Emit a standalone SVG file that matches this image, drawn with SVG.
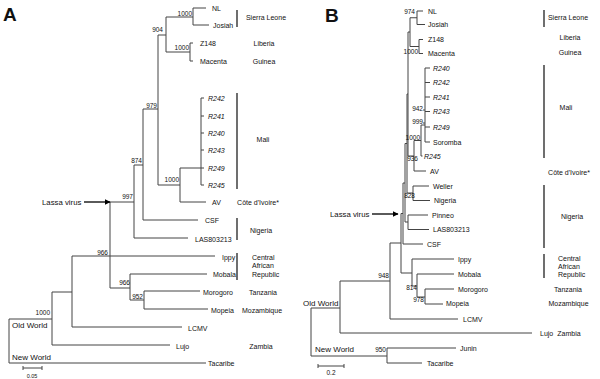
<svg xmlns="http://www.w3.org/2000/svg" width="600" height="379" viewBox="0 0 600 379">
<style>
text{font-family:"Liberation Sans",Arial,sans-serif;fill:#111}
.lf{font-size:7px}
.it{font-style:italic}
.bs{font-size:6.5px;text-anchor:end}
.rg{font-size:7px;text-anchor:middle}
.rl{font-size:7px}
.pl{font-size:19px;font-weight:bold}
.lv{font-size:7.8px}
.ow{font-size:8px}
.tr{fill:none;stroke:#444;stroke-width:1}
.br{fill:none;stroke:#222;stroke-width:1.3}
.ar{fill:none;stroke:#000;stroke-width:1.3}
</style>
<defs>
<marker id="ah" viewBox="0 0 10 10" refX="9" refY="5" markerWidth="6" markerHeight="6" markerUnits="userSpaceOnUse" orient="auto"><path d="M0 0L10 5L0 10z" fill="#000"/></marker>
</defs>
<rect width="600" height="379" fill="#fff"/>
<g id="connectors">
<!-- Panel A tree -->
<path class="tr" d="M9 319V363M9 319H52M9 363H206
M52 292V345M52 292H72M52 345H170
M72 256V327M72 256H110M72 327H182
M110 202V288M110 202H134M110 256H215M110 288H130
M130 274V300M130 274H207M130 300H144
M144 291V309M144 291H200M144 309H208
M134 165V238M134 165H143M134 238H188
M143 109V220M143 109H158M143 220H198
M158 35V185M158 35H166M158 185H180
M166 17V52M166 17H193M166 52H190
M193 8V25M193 8H206M193 25H209
M190 43V61M190 43H193M190 61H193
M180 168V202M180 168H201M180 202H206
M201 98V185M201 98H204M201 116H204M201 133H204M201 150H204M201 168H204M201 185H204"/>
<!-- Panel A scale -->
<path class="tr" d="M23 368H42M23 366V370M42 366V370"/>
<!-- Panel B tree -->
<path class="tr" d="M311 308V356M311 308H340M311 356H387
M387 348V363M387 348H456M387 363H422
M340 281V333M340 281H390M340 333H532
M390 243V319M390 243H401M390 319H458
M401 213.5V273M401 213.5H403M401 273H412
M412 259V286M412 259H454M412 286H417
M417 274V297M417 274H454M417 297H425
M425 289V304M425 289H454M425 304H443
M403 183V244M403 183H405M403 244H423
M405 143.5V222M405 143.5H407M405 222H408
M408 215V229.5M408 215H428M408 229.5H429
M407 94V193M407 94H408M407 193H413
M413 186V200.5M413 186H429M413 200.5H430
M408 32V156M408 32H410M408 156H414
M410 17.75V46.5M410 17.75H417M410 46.5H419
M417 11V24.5M417 11H423M417 24.5H425
M419 39.5V53.5M419 39.5H423M419 53.5H423
M414 140.5V171M414 140.5H421M414 171H426
M421 125V156M421 125H425M421 156H422.5
M425 68V142M425 68H430M425 82.5H430M425 97H430M425 111.5H430M425 127H430M425 142H430
M423 110H425M423 123H425"/>
<!-- Panel B scale -->
<path class="tr" d="M318 366H344M318 364V368M344 364V368"/>
<!-- Brackets A -->
<path class="br" d="M237 10V27M237 93V189M237 218V240M237 253V280"/>
<!-- Brackets B -->
<path class="br" d="M544 10V27M544 65V158M544 185V248M544 254V278"/>
<!-- Arrows -->
<path class="ar" d="M84 202H110" marker-end="url(#ah)"/>
<path class="ar" d="M372 214H398" marker-end="url(#ah)"/>
</g>
<g id="panelA">
<text class="pl" x="3" y="21">A</text>
<g id="A-leaves">
<text class="lf" x="212" y="10.5">NL</text>
<text class="lf" x="213" y="27.5">Josiah</text>
<text class="lf" x="200" y="45.5">Z148</text>
<text class="lf" x="200" y="63.5">Macenta</text>
<text class="lf it" x="208" y="100.5">R242</text>
<text class="lf it" x="208" y="118.5">R241</text>
<text class="lf it" x="208" y="135.5">R240</text>
<text class="lf it" x="208" y="152.5">R243</text>
<text class="lf it" x="208" y="170.5">R249</text>
<text class="lf it" x="208" y="187.5">R245</text>
<text class="lf" x="212" y="204.5">AV</text>
<text class="lf" x="205" y="222.5">CSF</text>
<text class="lf" x="195" y="241.5">LAS803213</text>
<text class="lf" x="222" y="259.5">Ippy</text>
<text class="lf" x="213" y="276.5">Mobala</text>
<text class="lf" x="203" y="294.5">Morogoro</text>
<text class="lf" x="211" y="312.5">Mopeia</text>
<text class="lf" x="188" y="330.5">LCMV</text>
<text class="lf" x="176" y="348.5">Lujo</text>
<text class="lf" x="208" y="366">Tacaribe</text>
</g>
<g id="A-boot">
<text class="bs" x="192" y="16">1000</text>
<text class="bs" x="163" y="32">904</text>
<text class="bs" x="189" y="50">1000</text>
<text class="bs" x="157" y="108">979</text>
<text class="bs" x="142" y="163">874</text>
<text class="bs" x="179" y="182">1000</text>
<text class="bs" x="133" y="199">997</text>
<text class="bs" x="108" y="255">966</text>
<text class="bs" x="130" y="285">966</text>
<text class="bs" x="143" y="299">952</text>
<text class="bs" x="50" y="315">1000</text>
</g>
<g id="A-regions">
<text class="rg" x="266" y="19.5">Sierra Leone</text>
<text class="rg" x="264" y="45.5">Liberia</text>
<text class="rg" x="264" y="63.5">Guinea</text>
<text class="rg" x="263" y="142">Mali</text>
<text class="rg" x="258" y="204.5">Côte d'Ivoire*</text>
<text class="rg" x="261" y="232.5">Nigeria</text>
<text class="rl" x="252" y="259.5">Central</text>
<text class="rl" x="252" y="268">African</text>
<text class="rl" x="252" y="276.5">Republic</text>
<text class="rg" x="263" y="294.5">Tanzania</text>
<text class="rg" x="262" y="312.5">Mozambique</text>
<text class="rg" x="261" y="348.5">Zambia</text>
</g>
<text class="lv" x="42" y="205">Lassa virus</text>
<text class="ow" x="12" y="328">Old World</text>
<text class="ow" x="12" y="360">New World</text>
<text x="32" y="378" font-size="5.5" text-anchor="middle">0.05</text>
</g>
<g id="panelB">
<text class="pl" x="325" y="22">B</text>
<g id="B-leaves">
<text class="lf" x="428" y="13.5">NL</text>
<text class="lf" x="428" y="27">Josiah</text>
<text class="lf" x="428" y="42">Z148</text>
<text class="lf" x="428" y="56">Macenta</text>
<text class="lf it" x="433" y="70.5">R240</text>
<text class="lf it" x="433" y="85">R242</text>
<text class="lf it" x="433" y="99.5">R241</text>
<text class="lf it" x="433" y="114">R243</text>
<text class="lf it" x="433" y="129.5">R249</text>
<text class="lf" x="433" y="144.5">Soromba</text>
<text class="lf it" x="424" y="158.5">R245</text>
<text class="lf" x="430" y="173.5">AV</text>
<text class="lf" x="433" y="188.5">Weller</text>
<text class="lf" x="434" y="203">Nigeria</text>
<text class="lf" x="432" y="217.5">Pinneo</text>
<text class="lf" x="433" y="232">LAS803213</text>
<text class="lf" x="427" y="246.5">CSF</text>
<text class="lf" x="458" y="262">Ippy</text>
<text class="lf" x="458" y="277">Mobala</text>
<text class="lf" x="458" y="291.5">Morogoro</text>
<text class="lf" x="446" y="306">Mopeia</text>
<text class="lf" x="463" y="321.5">LCMV</text>
<text class="lf" x="540" y="336">Lujo</text>
<text class="lf" x="460" y="350.5">Junin</text>
<text class="lf" x="427" y="365.5">Tacaribe</text>
</g>
<g id="B-boot">
<text class="bs" x="415" y="14">974</text>
<text class="bs" x="418" y="54">1000</text>
<text class="bs" x="423" y="111">942</text>
<text class="bs" x="423" y="124">999</text>
<text class="bs" x="420" y="140">1000</text>
<text class="bs" x="418" y="161">936</text>
<text class="bs" x="415" y="198">828</text>
<text class="bs" x="389" y="278">948</text>
<text class="bs" x="417" y="290">814</text>
<text class="bs" x="424" y="302">978</text>
<text class="bs" x="386" y="352">950</text>
</g>
<g id="B-regions">
<text class="rg" x="568" y="19.5">Sierra Leone</text>
<text class="rg" x="570" y="40">Liberia</text>
<text class="rg" x="570" y="54.5">Guinea</text>
<text class="rg" x="566" y="109.5">Mali</text>
<text class="rg" x="569" y="174.5">Côte d'Ivoire*</text>
<text class="rg" x="572" y="218.5">Nigeria</text>
<text class="rl" x="558" y="260.5">Central</text>
<text class="rl" x="558" y="268.5">African</text>
<text class="rl" x="558" y="276.5">Republic</text>
<text class="rg" x="568" y="291.5">Tanzania</text>
<text class="rg" x="568.5" y="305.5">Mozambique</text>
<text class="rg" x="569" y="335.5">Zambia</text>
</g>
<text class="lv" x="330" y="217">Lassa virus</text>
<text class="ow" x="303" y="306">Old World</text>
<text class="ow" x="315" y="352">New World</text>
<text x="331" y="375" font-size="6.5" text-anchor="middle">0.2</text>
</g>
</svg>
